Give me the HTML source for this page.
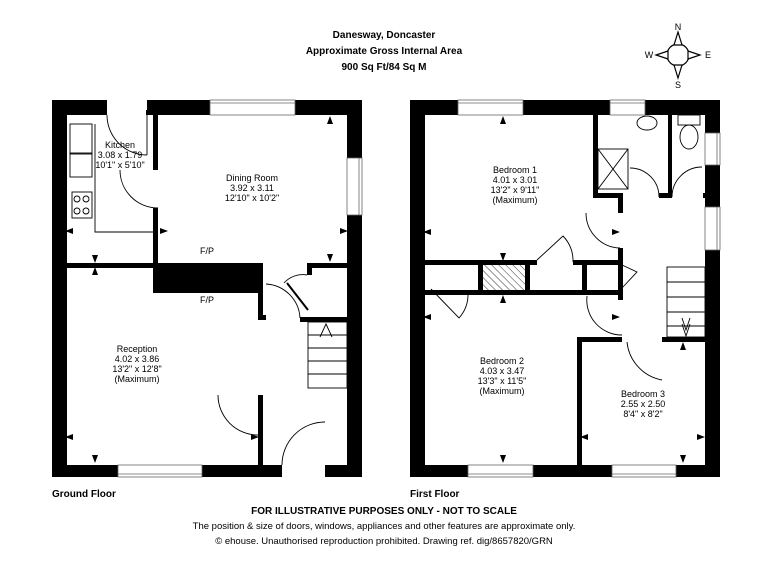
<!DOCTYPE html>
<html><head><style>
body{margin:0;background:#fff;width:768px;height:576px;overflow:hidden;font-family:"Liberation Sans",Arial,sans-serif}
</style></head><body>
<svg width="768" height="576" viewBox="0 0 768 576" xmlns="http://www.w3.org/2000/svg" font-family="Liberation Sans, Arial, sans-serif">
<rect width="768" height="576" fill="#fff"/>
<g font-weight="bold" font-size="10" text-anchor="middle" fill="#000">
<text x="384" y="38">Danesway, Doncaster</text>
<text x="384" y="54">Approximate Gross Internal Area</text>
<text x="384" y="70">900 Sq Ft/84 Sq M</text>
</g>
<g stroke="#000" stroke-width="1.2" fill="#fff">
<circle cx="678" cy="55" r="11"/>
<path d="M674 45 L678 32 L682 45 Z M674 65 L678 78 L682 65 Z M668 51 L656 55 L668 59 Z M688 51 L700 55 L688 59 Z"/>
</g>
<g font-size="9" text-anchor="middle" fill="#000">
<text x="678" y="30">N</text><text x="678" y="88">S</text><text x="649" y="58">W</text><text x="708" y="58">E</text>
</g>
<g fill="#000">
<rect x="52" y="100" width="15" height="377"/>
<rect x="347" y="100" width="15" height="377"/>
<rect x="52" y="100" width="55" height="15"/>
<rect x="147" y="100" width="63" height="15"/>
<rect x="295" y="100" width="67" height="15"/>
<rect x="52" y="465" width="66" height="12"/>
<rect x="202" y="465" width="80" height="12"/>
<rect x="325" y="465" width="37" height="12"/>
<rect x="153" y="110" width="5" height="60"/>
<rect x="146" y="110" width="12" height="5"/>
<rect x="153" y="208" width="5" height="60"/>
<rect x="67" y="263" width="90" height="5"/>
<rect x="153" y="263" width="105" height="30"/>
<rect x="258" y="263" width="5" height="57"/>
<rect x="258" y="315" width="8" height="5"/>
<rect x="258" y="395" width="5" height="70"/>
<rect x="307" y="263" width="40" height="5"/>
<rect x="307" y="263" width="5" height="12"/>
<rect x="300" y="317" width="47" height="5"/>
<rect x="410" y="100" width="15" height="377"/>
<rect x="705" y="100" width="15" height="377"/>
<rect x="410" y="100" width="48" height="15"/>
<rect x="523" y="100" width="87" height="15"/>
<rect x="645" y="100" width="75" height="15"/>
<rect x="410" y="465" width="58" height="12"/>
<rect x="533" y="465" width="79" height="12"/>
<rect x="676" y="465" width="44" height="12"/>
<rect x="593" y="115" width="5" height="83"/>
<rect x="593" y="193" width="30" height="5"/>
<rect x="618" y="193" width="5" height="20"/>
<rect x="659" y="193" width="13" height="5"/>
<rect x="668" y="115" width="4" height="83"/>
<rect x="703" y="193" width="4" height="5"/>
<rect x="618" y="248" width="5" height="47"/>
<rect x="425" y="260" width="112" height="5"/>
<rect x="573" y="260" width="50" height="5"/>
<rect x="425" y="290" width="198" height="5"/>
<rect x="478" y="260" width="52" height="35"/>
<rect x="582" y="260" width="5" height="35"/>
<rect x="618" y="290" width="5" height="10"/>
<rect x="577" y="337" width="45" height="5"/>
<rect x="662" y="337" width="43" height="5"/>
<rect x="577" y="337" width="5" height="130"/>
</g>
<defs><pattern id="h" width="5" height="5" patternUnits="userSpaceOnUse" patternTransform="rotate(-45)"><rect width="5" height="5" fill="#fff"/><line x1="0" y1="0" x2="0" y2="5" stroke="#000" stroke-width="0.8"/></pattern></defs>
<rect x="483" y="265" width="42" height="25" fill="url(#h)"/>
<g fill="#fff" stroke="#666" stroke-width="0.8">
<rect x="210" y="100" width="85" height="15"/><line x1="210" y1="103" x2="295" y2="103"/>
<rect x="347" y="158" width="15" height="57"/><line x1="359" y1="158" x2="359" y2="215"/>
<rect x="118" y="465" width="84" height="12"/><line x1="118" y1="474" x2="202" y2="474"/>
<rect x="458" y="100" width="65" height="15"/><line x1="458" y1="103" x2="523" y2="103"/>
<rect x="610" y="100" width="35" height="15"/><line x1="610" y1="103" x2="645" y2="103"/>
<rect x="705" y="133" width="15" height="32"/><line x1="717" y1="133" x2="717" y2="165"/>
<rect x="705" y="207" width="15" height="43"/><line x1="717" y1="207" x2="717" y2="250"/>
<rect x="468" y="465" width="65" height="12"/><line x1="468" y1="474" x2="533" y2="474"/>
<rect x="612" y="465" width="64" height="12"/><line x1="612" y1="474" x2="676" y2="474"/>
</g>
<g fill="none" stroke="#000" stroke-width="0.9">
<path d="M107 115 A40 40 0 0 0 147 155"/><line x1="147" y1="115" x2="147" y2="155"/>
<path d="M120 170 A38 38 0 0 0 158 208"/>
<path d="M218 395 A40 40 0 0 0 258 435"/>
<path d="M282 465 A43 43 0 0 1 325 422"/>
<path d="M266 284 A36 36 0 0 1 300 318"/><path d="M284 283 A25 25 0 0 1 307 275"/><line x1="287" y1="283" x2="308" y2="310" stroke-width="2"/>
<path d="M95 124 V232 H153"/>
<rect x="70" y="124" width="22" height="30"/><rect x="70" y="153" width="22" height="24"/>
<rect x="72" y="192" width="20" height="26"/>
<circle cx="77" cy="199" r="3"/><circle cx="86" cy="199" r="3"/><circle cx="77" cy="211" r="3"/><circle cx="86" cy="211" r="3"/>
<rect x="308" y="322" width="39" height="66"/>
<line x1="308" y1="335" x2="347" y2="335"/><line x1="308" y1="348" x2="347" y2="348"/><line x1="308" y1="361" x2="347" y2="361"/><line x1="308" y1="374" x2="347" y2="374"/>
<path d="M320 337 L326 324 L332 337"/>
<ellipse cx="647" cy="123" rx="10" ry="7"/>
<rect x="678" y="115" width="22" height="10"/><ellipse cx="689" cy="137" rx="9" ry="12"/>
<rect x="598" y="149" width="30" height="40"/><line x1="598" y1="149" x2="628" y2="189"/><line x1="628" y1="149" x2="598" y2="189"/>
<path d="M630 168 A29 29 0 0 1 659 197"/><path d="M672 197 A30 30 0 0 1 702 167"/>
<path d="M586 213 A35 35 0 0 0 620 248"/>
<path d="M537 260 L563 236 A35 35 0 0 1 573 262"/>
<path d="M622 265 L637 272 L622 288"/>
<path d="M431 289 L459 318 A35 35 0 0 0 468 295"/>
<path d="M587 296 A35 35 0 0 0 622 335"/>
<path d="M627 342 A43 43 0 0 0 662 380"/>
<rect x="667" y="267" width="38" height="70"/>
<line x1="667" y1="282" x2="705" y2="282"/><line x1="667" y1="297" x2="705" y2="297"/><line x1="667" y1="312" x2="705" y2="312"/><line x1="667" y1="326" x2="705" y2="326"/>
<path d="M682 318 L686 330 L690 318 M682 324 L686 336 L690 324"/>
</g>
<g fill="#000">
<path d="M327 124 l3-8 l3 8Z M327 254 l3 8 l3-8Z M340 234 l8-3 l-8-3Z M73 234 l-8-3 l8-3Z M160 234 l8-3 l-8-3Z M92 255 l3 8 l3-8Z M92 275 l3-8 l3 8Z M92 455 l3 8 l3-8Z M73 440 l-8-3 l8-3Z M251 440 l8-3 l-8-3Z"/>
<path d="M500 124 l3-8 l3 8Z M431 235 l-8-3 l8-3Z M612 235 l8-3 l-8-3Z M500 253 l3 8 l3-8Z M500 303 l3-8 l3 8Z M431 320 l-8-3 l8-3Z M612 320 l8-3 l-8-3Z M500 455 l3 8 l3-8Z M680 350 l3-8 l3 8Z M588 440 l-8-3 l8-3Z M697 440 l8-3 l-8-3Z M680 455 l3 8 l3-8Z"/>
</g>
<g font-size="9" text-anchor="middle" fill="#000">
<text x="120" y="148">Kitchen</text><text x="120" y="158">3.08 x 1.79</text><text x="120" y="168">10'1" x 5'10"</text>
<text x="252" y="181">Dining Room</text><text x="252" y="191">3.92 x 3.11</text><text x="252" y="201">12'10" x 10'2"</text>
<text x="207" y="254">F/P</text><text x="207" y="303">F/P</text>
<text x="137" y="352">Reception</text><text x="137" y="362">4.02 x 3.86</text><text x="137" y="372">13'2" x 12'8"</text><text x="137" y="382">(Maximum)</text>
<text x="515" y="173">Bedroom 1</text><text x="515" y="183">4.01 x 3.01</text><text x="515" y="193">13'2" x 9'11"</text><text x="515" y="203">(Maximum)</text>
<text x="502" y="364">Bedroom 2</text><text x="502" y="374">4.03 x 3.47</text><text x="502" y="384">13'3" x 11'5"</text><text x="502" y="394">(Maximum)</text>
<text x="643" y="397">Bedroom 3</text><text x="643" y="407">2.55 x 2.50</text><text x="643" y="417">8'4" x 8'2"</text>
</g>
<g font-size="10" font-weight="bold" fill="#000">
<text x="52" y="497">Ground Floor</text><text x="410" y="497">First Floor</text>
<text x="384" y="514" text-anchor="middle">FOR ILLUSTRATIVE PURPOSES ONLY - NOT TO SCALE</text>
</g>
<g font-size="9.5" fill="#000" text-anchor="middle">
<text x="384" y="529">The position &amp; size of doors, windows, appliances and other features are approximate only.</text>
<text x="384" y="544">© ehouse. Unauthorised reproduction prohibited. Drawing ref. dig/8657820/GRN</text>
</g>
</svg>
</body></html>
